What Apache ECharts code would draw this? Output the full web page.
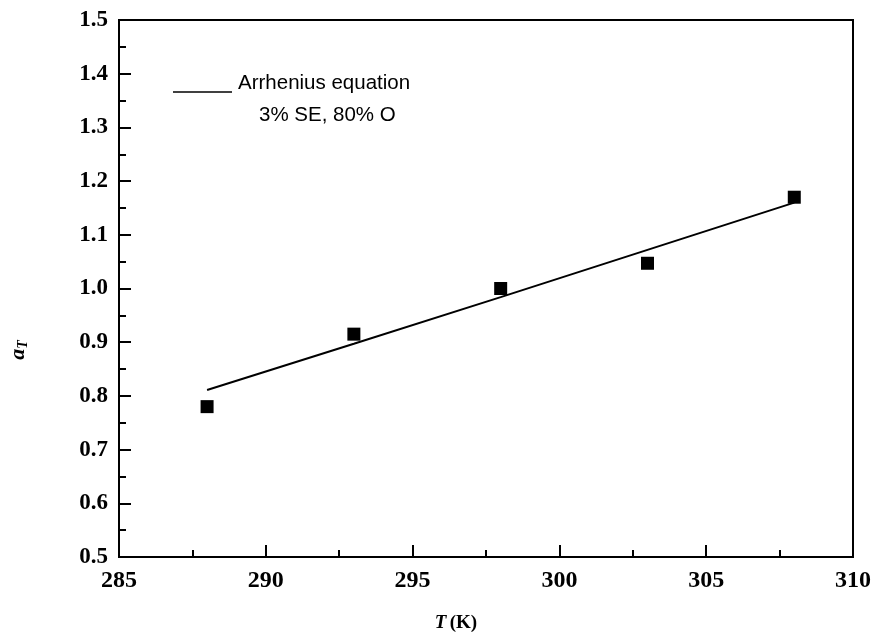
<!DOCTYPE html>
<html>
<head>
	<meta charset="utf-8">
	<title></title>
	<style type="text/css">
		body { margin: 0; }
		#main {
			width: 874px;
			height: 634px;
		}
	</style>
	<script src='https://cdn.jsdelivr.net/npm/echarts@6/dist/echarts.min.js'></script>
</head>
<body>
	<div id="main"></div>

	<script type="text/javascript">
		// measured points (T in K, a_T)
		var temps = [288, 293, 298, 303, 308];
		var measured = [0.78, 0.915, 1.0, 1.047, 1.17];
		// Arrhenius fit at the same temperatures
		var fitted = [0.811, 0.897, 0.984, 1.072, 1.16];

		var xTicks = [285, 290, 295, 300, 305, 310];
		var yTicks = [0.5, 0.6, 0.7, 0.8, 0.9, 1.0, 1.1, 1.2, 1.3, 1.4, 1.5];

		var serif = '"Liberation Serif", "Times New Roman", serif';
		var sans = '"Liberation Sans", Arial, sans-serif';

		function pairs(xs, ys) {
			var out = [];
			for (var i = 0; i < xs.length; i++) out.push([xs[i], ys[i]]);
			return out;
		}

		var chart = echarts.init(document.getElementById('main'));
		var option = {
			animation: false,
			backgroundColor: '#fff',
			grid: {
				left: 119, top: 20, right: 20, bottom: 77,
				show: true,
				borderColor: '#000',
				borderWidth: 2
			},
			xAxis: {
				type: 'value',
				min: xTicks[0],
				max: xTicks[xTicks.length - 1],
				interval: 5,
				axisLine: { lineStyle: { color: '#000', width: 2 } },
				axisTick: { inside: true, length: 12, lineStyle: { color: '#000', width: 2 } },
				minorTick: { show: true, splitNumber: 2, length: 7, lineStyle: { color: '#000', width: 2 } },
				splitLine: { show: false },
				axisLabel: {
					margin: 12,
					fontFamily: serif, fontWeight: 'bold', fontSize: 24, color: '#000'
				}
			},
			yAxis: {
				type: 'value',
				min: yTicks[0],
				max: yTicks[yTicks.length - 1],
				interval: 0.1,
				axisLine: { lineStyle: { color: '#000', width: 2 } },
				axisTick: { inside: true, length: 12, lineStyle: { color: '#000', width: 2 } },
				minorTick: { show: true, splitNumber: 2, length: 7, lineStyle: { color: '#000', width: 2 } },
				splitLine: { show: false },
				axisLabel: {
					margin: 11,
					fontFamily: serif, fontWeight: 'bold', fontSize: 23, color: '#000',
					formatter: function (v) { return v.toFixed(1); }
				}
			},
			graphic: [
				// legend: line sample + two text lines
				{
					type: 'line',
					shape: { x1: 173, y1: 92, x2: 232, y2: 92 },
					style: { stroke: '#000', lineWidth: 1.5 }
				},
				{
					type: 'text',
					x: 238, y: 83,
					style: { text: 'Arrhenius equation', font: '20.5px ' + sans, fill: '#000', verticalAlign: 'middle' }
				},
				{
					type: 'text',
					x: 259, y: 115,
					style: { text: '3% SE, 80% O', font: '20.5px ' + sans, fill: '#000', verticalAlign: 'middle' }
				},
				{
					type: 'text',
					x: 456, y: 623,
					style: {
						text: '{i|T} {b|(K)}',
						align: 'center', verticalAlign: 'middle',
						rich: {
							i: { fontFamily: serif, fontWeight: 'bold', fontStyle: 'italic', fontSize: 19, fill: '#000' },
							b: { fontFamily: serif, fontWeight: 'bold', fontSize: 19, fill: '#000' }
						}
					}
				},
				{
					type: 'text',
					x: 18, y: 350,
					rotation: Math.PI / 2,
					style: {
						text: '{a|a}{s|T}',
						align: 'center', verticalAlign: 'middle',
						rich: {
							a: { fontFamily: serif, fontWeight: 'bold', fontStyle: 'italic', fontSize: 22, fill: '#000' },
							s: { fontFamily: serif, fontWeight: 'bold', fontStyle: 'italic', fontSize: 14, fill: '#000', padding: [10, 0, 0, 0] }
						}
					}
				}
			],
			series: [
				{
					name: 'Arrhenius equation',
					type: 'line',
					symbol: 'none',
					lineStyle: { color: '#000', width: 2 },
					itemStyle: { color: '#000' },
					data: pairs(temps, fitted)
				},
				{
					name: 'data',
					type: 'scatter',
					symbol: 'rect',
					symbolSize: 13,
					itemStyle: { color: '#000', opacity: 1 },
					data: pairs(temps, measured)
				}
			]
		};

		chart.setOption(option);
	</script>
</body>
</html>
